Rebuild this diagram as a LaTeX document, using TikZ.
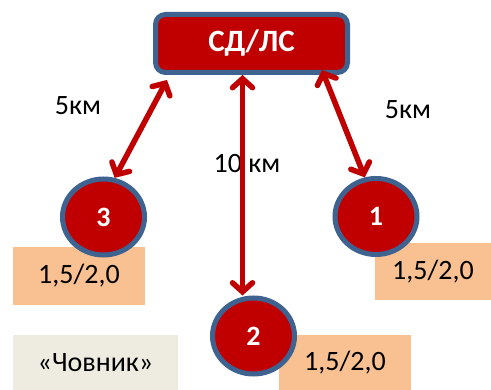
\documentclass[tikz,border=0pt]{standalone}
\usepackage{fontspec}
\setmainfont{Carlito}
\usetikzlibrary{shapes.geometric,arrows.meta}
\definecolor{hubred}{HTML}{C00000}
\definecolor{rimblue}{HTML}{3E6391}
\definecolor{peach}{HTML}{F9C192}
\definecolor{tan}{HTML}{EEECE1}

\begin{document}
\begin{tikzpicture}[x=1pt,y=-1pt,
	hub/.style={rectangle,rounded corners=10pt,draw=rimblue,line width=5pt,fill=hubred,
		minimum width=192pt,minimum height=58pt,text=white,font=\fontsize{31}{36}\selectfont\bfseries},
	site/.style={ellipse,draw=rimblue,line width=5pt,fill=hubred,minimum width=82pt,
		minimum height=76pt,text=white,font=\fontsize{28}{34}\selectfont\bfseries},
	load/.style={fill=peach,inner sep=0pt,font=\fontsize{28}{34}\selectfont},
	dist/.style={font=\fontsize{28}{34}\selectfont},
	link/.style={draw=hubred,line width=5.5pt,
		{Straight Barb[length=9pt,width=20pt,line cap=round]}-{Straight Barb[length=9pt,width=20pt,line cap=round]}}]
	\useasboundingbox (0,0) rectangle (491,390);
	\node[load,minimum width=132pt,minimum height=58pt] (l3) at (79,276) {1,5/2,0};
	\node[load,minimum width=116pt,minimum height=57pt] (l1) at (433,271.5) {1,5/2,0};
	\node[load,minimum width=132pt,minimum height=55pt] (l2) at (345,362.5) {1,5/2,0};
	\node[load,fill=tan,minimum width=165pt,minimum height=55pt] (boat) at (95.5,362.5) {«Човник»};
	\node[hub] (sdls) at (251.5,43.5) {СД/ЛС};
	\node[site] (c3) at (103.5,217) {3};
	\node[site] (c1) at (376,216.5) {1};
	\node[site] (c2) at (253.5,336) {2};
	\node[dist] (d3) at (78,106) {5км};
	\node[dist] (d1) at (408,110) {5км};
	\node[dist] (d2) at (247,164) {10 км};
	\draw[link] ([xshift=14pt,yshift=-5pt]sdls.south west) -- (c3.74);
	\draw[link] ([xshift=-9pt]sdls.south) -- ([xshift=-9pt]sdls.south |- c2.north);
	\draw[link] ([xshift=-28pt,yshift=5pt]sdls.south east) -- (c1.106);
\end{tikzpicture}
\end{document}
